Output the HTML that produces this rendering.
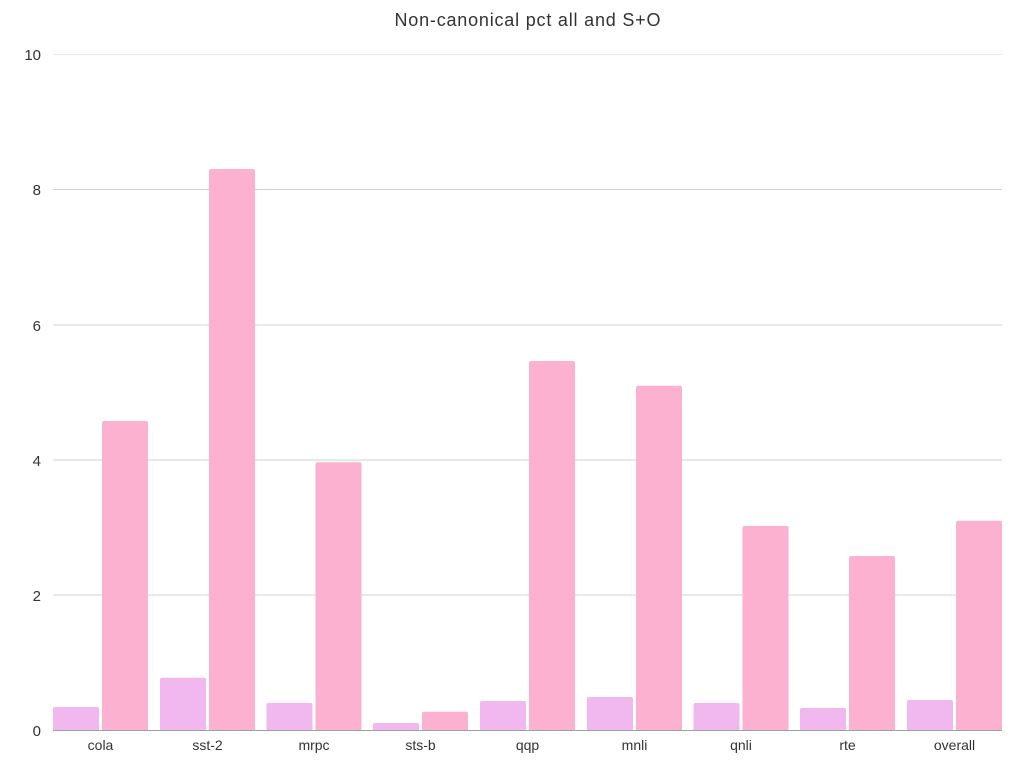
<!DOCTYPE html>
<html><head><meta charset="utf-8"><style>
html,body{margin:0;padding:0;background:#fff;}
svg{display:block;}
text{font-family:"Liberation Sans",sans-serif;fill:#333;}
</style></head><body>
<svg width="1024" height="768" viewBox="0 0 1024 768" xmlns="http://www.w3.org/2000/svg">
<rect width="1024" height="768" fill="#fff"/>
<text x="527.5" y="26" font-size="18" text-anchor="middle" textLength="266" lengthAdjust="spacing" fill="#222">Non-canonical pct all and S+O</text>
<g stroke-width="1">
<line x1="53" y1="54.5" x2="1002" y2="54.5" stroke="#ebebeb"/>
<line x1="53" y1="189.5" x2="1002" y2="189.5" stroke="#d0d0d0"/>
<line x1="53" y1="325" x2="1002" y2="325" stroke="#d0d0d0"/>
<line x1="53" y1="460" x2="1002" y2="460" stroke="#d0d0d0"/>
<line x1="53" y1="595" x2="1002" y2="595" stroke="#d0d0d0"/>
</g>
<g font-size="15" text-anchor="end">
<text x="41" y="60">10</text>
<text x="41" y="195">8</text>
<text x="41" y="331">6</text>
<text x="41" y="466">4</text>
<text x="41" y="601">2</text>
<text x="41" y="736">0</text>
</g>
<g fill="#f0b8ef">
<path d="M53,730V709a2,2 0 0 1 2,-2H97a2,2 0 0 1 2,2V730Z"/>
<path d="M160,730V679.7a2,2 0 0 1 2,-2H204a2,2 0 0 1 2,2V730Z"/>
<path d="M266.5,730V705a2,2 0 0 1 2,-2H310.5a2,2 0 0 1 2,2V730Z"/>
<path d="M373,730V725a2,2 0 0 1 2,-2H417a2,2 0 0 1 2,2V730Z"/>
<path d="M480,730V703a2,2 0 0 1 2,-2H524a2,2 0 0 1 2,2V730Z"/>
<path d="M587,730V699a2,2 0 0 1 2,-2H631a2,2 0 0 1 2,2V730Z"/>
<path d="M693.5,730V705a2,2 0 0 1 2,-2H737.5a2,2 0 0 1 2,2V730Z"/>
<path d="M800,730V710a2,2 0 0 1 2,-2H844a2,2 0 0 1 2,2V730Z"/>
<path d="M907,730V702a2,2 0 0 1 2,-2H951a2,2 0 0 1 2,2V730Z"/>
</g>
<g fill="#fdb1d1">
<path d="M102,730V423a2,2 0 0 1 2,-2H146a2,2 0 0 1 2,2V730Z"/>
<path d="M209,730V171a2,2 0 0 1 2,-2H253a2,2 0 0 1 2,2V730Z"/>
<path d="M315.5,730V464.3a2,2 0 0 1 2,-2H359.5a2,2 0 0 1 2,2V730Z"/>
<path d="M422,730V713.7a2,2 0 0 1 2,-2H466a2,2 0 0 1 2,2V730Z"/>
<path d="M529,730V363a2,2 0 0 1 2,-2H573a2,2 0 0 1 2,2V730Z"/>
<path d="M636,730V387.7a2,2 0 0 1 2,-2H680a2,2 0 0 1 2,2V730Z"/>
<path d="M742.5,730V528a2,2 0 0 1 2,-2H786.5a2,2 0 0 1 2,2V730Z"/>
<path d="M849,730V558a2,2 0 0 1 2,-2H893a2,2 0 0 1 2,2V730Z"/>
<path d="M956,730V522.7a2,2 0 0 1 2,-2H1000a2,2 0 0 1 2,2V730Z"/>
</g>
<line x1="53" y1="730.5" x2="1002" y2="730.5" stroke="#a0a0a0" stroke-width="1"/>
<g font-size="14" text-anchor="middle">
<text x="100.5" y="750">cola</text>
<text x="207.5" y="750">sst-2</text>
<text x="314" y="750">mrpc</text>
<text x="420.5" y="750">sts-b</text>
<text x="527.5" y="750">qqp</text>
<text x="634.5" y="750">mnli</text>
<text x="741" y="750">qnli</text>
<text x="847.5" y="750">rte</text>
<text x="954.5" y="750">overall</text>
</g>
</svg>
</body></html>
